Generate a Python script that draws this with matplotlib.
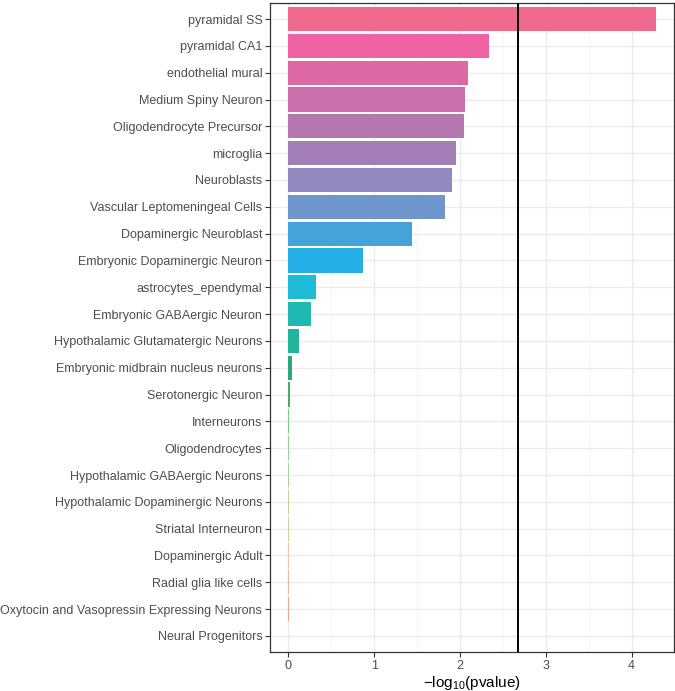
import matplotlib

matplotlib.use("Agg")
import matplotlib.pyplot as plt
from matplotlib.ticker import FixedLocator

# cell types, top to bottom as drawn
CELL_TYPES = [
    "pyramidal SS",
    "pyramidal CA1",
    "endothelial mural",
    "Medium Spiny Neuron",
    "Oligodendrocyte Precursor",
    "microglia",
    "Neuroblasts",
    "Vascular Leptomeningeal Cells",
    "Dopaminergic Neuroblast",
    "Embryonic Dopaminergic Neuron",
    "astrocytes_ependymal",
    "Embryonic GABAergic Neuron",
    "Hypothalamic Glutamatergic Neurons",
    "Embryonic midbrain nucleus neurons",
    "Serotonergic Neuron",
    "Interneurons",
    "Oligodendrocytes",
    "Hypothalamic GABAergic Neurons",
    "Hypothalamic Dopaminergic Neurons",
    "Striatal Interneuron",
    "Dopaminergic Adult",
    "Radial glia like cells",
    "Oxytocin and Vasopressin Expressing Neurons",
    "Neural Progenitors",
]
NEG_LOG10_P = [
    4.28, 2.34, 2.09, 2.06, 2.05, 1.95, 1.91, 1.82, 1.44, 0.87,
    0.32, 0.26, 0.12, 0.037, 0.017, 0.012, 0.010, 0.006, 0.005,
    0.004, 0.003, 0.002, 0.002, 0.001,
]
THRESHOLD = 2.68
X_TICKS = [0, 1, 2, 3, 4]

# fill per cell type (same order as CELL_TYPES)
BAR_COLORS = [
    "#f06a8e", "#ee62a4", "#de68a6", "#cb6fac", "#b677b1", "#a27eb6",
    "#8f89bf", "#6f96cc", "#45a3da", "#24b0e6", "#1ebad6", "#1fb9b3",
    "#22b59c", "#2fa877", "#49ad6a", "#7ccc8e", "#8fd09b", "#a8d49a",
    "#c3d39a", "#d9cd9b", "#f0c89b", "#f2b995", "#f0a895", "#f09ba0",
]


def main() -> None:
    plt.rcParams["font.family"] = ["Liberation Sans", "DejaVu Sans"]
    plt.rcParams["mathtext.fontset"] = "custom"
    plt.rcParams["mathtext.rm"] = "Liberation Sans"

    n = len(CELL_TYPES)
    ypos = list(range(n, 0, -1))

    fig = plt.figure(figsize=(6.75, 6.91), dpi=100)
    ax = fig.add_axes([0.4, 0.0564, 0.5985, 0.9393])

    ax.barh(ypos, NEG_LOG10_P, height=0.9, color=BAR_COLORS, zorder=2)
    ax.axvline(THRESHOLD, color="black", linewidth=1.4, zorder=3)

    xmax = max(NEG_LOG10_P)
    pad = xmax * 0.05
    ax.set_xlim(-pad, xmax + pad)
    ax.set_ylim(0.4, n + 0.6)

    ax.set_yticks(ypos)
    ax.set_yticklabels(CELL_TYPES)
    ax.set_xticks(X_TICKS)
    ax.xaxis.set_minor_locator(FixedLocator([0.5, 1.5, 2.5, 3.5]))

    ax.grid(True, which="major", color="#ebebeb", linewidth=1.0, zorder=0)
    ax.grid(True, which="minor", axis="x", color="#f4f4f4", linewidth=0.6, zorder=0)
    ax.set_axisbelow(True)

    ax.tick_params(axis="both", which="major", length=3.5, width=0.8, color="#333333",
                   labelcolor="#4d4d4d", labelsize=9.0, pad=2)
    ax.tick_params(axis="both", which="minor", length=0)
    for spine in ax.spines.values():
        spine.set_color("#333333")
        spine.set_linewidth(0.9)

    ax.set_xlabel(r"$\mathregular{-log_{10}(pvalue)}$", fontsize=11, color="black", labelpad=2)

    fig.savefig("out.png", dpi=100)
    plt.close(fig)


if __name__ == "__main__":
    main()
